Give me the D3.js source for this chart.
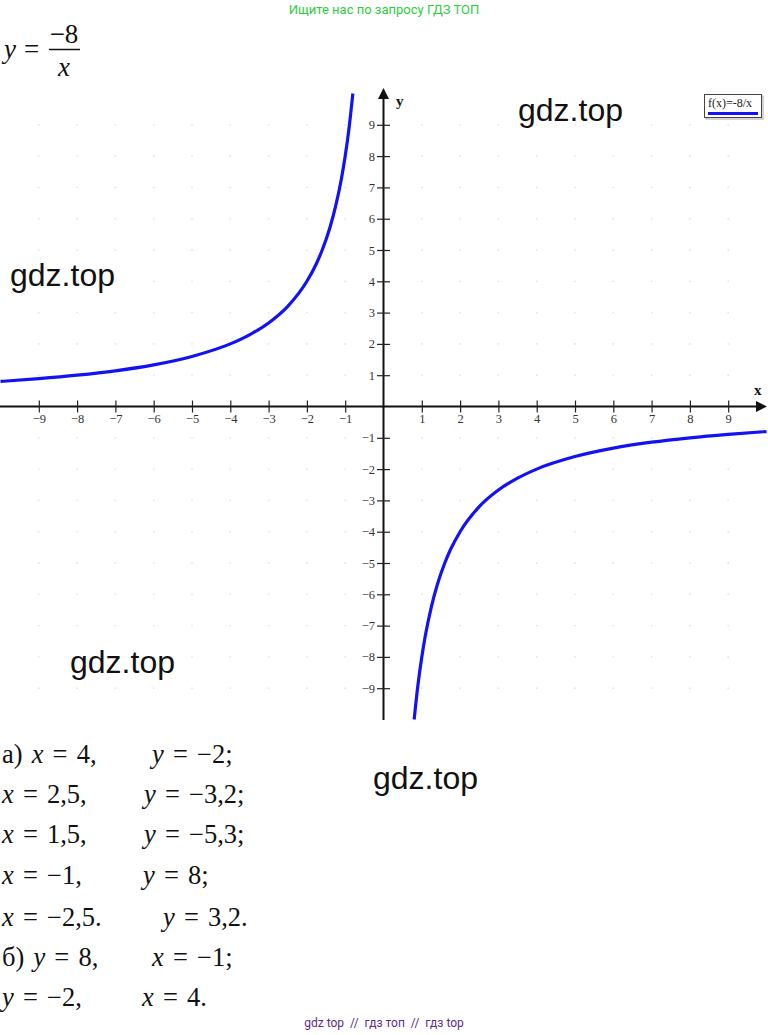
<!DOCTYPE html>
<html><head><meta charset="utf-8">
<script src="https://cdn.jsdelivr.net/npm/d3@7"></script>
<style>
html,body{margin:0;padding:0;background:#fff;}
svg{display:block;}
</style></head>
<body>
<script>
// ---- data ----
const xTicks = [-9,-8,-7,-6,-5,-4,-3,-2,-1,1,2,3,4,5,6,7,8,9];
const yTicks = [-9,-8,-7,-6,-5,-4,-3,-2,-1,1,2,3,4,5,6,7,8,9];
const leftBranchX = [-10,-9,-8,-7,-6,-5,-4,-3.5,-3,-2.5,-2,-1.75,-1.6,-1.4,-1.25,-1.1,-1,-0.9,-0.8];
const leftBranchY = [0.8,0.89,1,1.14,1.33,1.6,2,2.29,2.67,3.2,4,4.57,5,5.71,6.4,7.27,8,8.89,10];
const rightBranchX = [0.8,0.9,1,1.1,1.25,1.4,1.6,1.75,2,2.5,3,3.5,4,5,6,7,8,9,10];
const rightBranchY = [-10,-8.89,-8,-7.27,-6.4,-5.71,-5,-4.57,-4,-3.2,-2.67,-2.29,-2,-1.6,-1.33,-1.14,-1,-0.89,-0.8];
const legendLabel = "f(x)=-8/x";
const watermarks = ["gdz.top","gdz.top","gdz.top","gdz.top"];
const headerText = "Ищите нас по запросу ГДЗ ТОП";
const footerText = "gdz top  //  гдз топ  //  гдз top";
const answerLeft = ["а) x = 4,","x = 2,5,","x = 1,5,","x = −1,","x = −2,5.","б) y = 8,","y = −2,"];
const answerRight = ["y = −2;","y = −3,2;","y = −5,3;","y = 8;","y = 3,2.","x = −1;","x = 4."];

// ---- layout ----
const W = 768, H = 1035;
const svg = d3.select("body").append("svg").attr("width", W).attr("height", H);
const x = d3.scaleLinear().domain([-10,10]).range([0.5,766.5]);
const y = d3.scaleLinear().domain([-10,10]).range([719.5,93.5]);
const serif = "'Liberation Serif','Times New Roman',serif";
const sans = "'Liberation Sans',Arial,sans-serif";
const blue = "#1212f2";

// header
svg.append("text").attr("x",384).attr("y",14).attr("text-anchor","middle")
  .attr("font-family","Roboto,sans-serif").attr("font-size",13).attr("fill","#2ecc40")
  .text(headerText);

// formula y = -8/x
const f = svg.append("g").attr("font-family",serif).attr("font-size",27).attr("fill","#111");
f.append("text").attr("x",4).attr("y",58).attr("font-style","italic").text("y");
f.append("text").attr("x",24).attr("y",58).text("=");
f.append("text").attr("x",64).attr("y",43).attr("text-anchor","middle").text("−8");
f.append("line").attr("x1",49).attr("x2",80).attr("y1",49.5).attr("y2",49.5).attr("stroke","#111").attr("stroke-width",1.5);
f.append("text").attr("x",64).attr("y",76).attr("text-anchor","middle").attr("font-style","italic").text("x");

// faint lattice dots
const lattice = [];
for (const a of d3.range(-9,10)) for (const b of d3.range(-9,10)) if (a!==0 && b!==0) lattice.push([a,b]);
svg.append("g").selectAll("circle").data(lattice).join("circle")
  .attr("cx",d=>x(d[0])).attr("cy",d=>y(d[1])).attr("r",0.9).attr("fill","#e4e4e4");

// axes lines
const x0 = x(0), y0 = y(0);
svg.append("line").attr("x1",0).attr("x2",760).attr("y1",y0).attr("y2",y0).attr("stroke","#111").attr("stroke-width",2);
svg.append("line").attr("x1",x0).attr("x2",x0).attr("y1",95).attr("y2",720).attr("stroke","#111").attr("stroke-width",2);
svg.append("path").attr("d",`M767,${y0} L756,${y0-5.5} L756,${y0+5.5} Z`).attr("fill","#111");
svg.append("path").attr("d",`M${x0},88 L${x0-5.5},99 L${x0+5.5},99 Z`).attr("fill","#111");

// x axis ticks
const xa = svg.append("g").attr("transform",`translate(0,${y0-6})`)
  .call(d3.axisBottom(x).tickValues(xTicks).tickSize(12).tickPadding(2).tickFormat(d3.format("d")));
xa.select(".domain").remove();
xa.selectAll(".tick line").attr("stroke","#222").attr("stroke-width",1.2);
xa.selectAll(".tick text").attr("font-family",serif).attr("font-size",12.5).attr("fill","#333");

// y axis ticks
const ya = svg.append("g").attr("transform",`translate(${x0+6.5},0)`)
  .call(d3.axisLeft(y).tickValues(yTicks).tickSize(13).tickPadding(2).tickFormat(d3.format("d")));
ya.select(".domain").remove();
ya.selectAll(".tick line").attr("stroke","#222").attr("stroke-width",1.2);
ya.selectAll(".tick text").attr("font-family",serif).attr("font-size",12.5).attr("fill","#333");

// axis names
svg.append("text").attr("x",754).attr("y",395).attr("font-family",serif).attr("font-weight","bold").attr("font-size",15).attr("fill","#111").text("x");
svg.append("text").attr("x",396).attr("y",106).attr("font-family",serif).attr("font-weight","bold").attr("font-size",15).attr("fill","#111").text("y");

// curves
svg.append("defs").append("clipPath").attr("id","plotclip").append("rect")
  .attr("x",0).attr("y",92).attr("width",W).attr("height",628);
const line = d3.line().x(d=>x(d[0])).y(d=>y(d[1])).curve(d3.curveMonotoneX);
const cg = svg.append("g").attr("clip-path","url(#plotclip)");
cg.append("path").datum(d3.zip(leftBranchX,leftBranchY)).attr("d",line)
  .attr("fill","none").attr("stroke",blue).attr("stroke-width",3.2);
cg.append("path").datum(d3.zip(rightBranchX,rightBranchY)).attr("d",line)
  .attr("fill","none").attr("stroke",blue).attr("stroke-width",3.2);

// legend
const lg = svg.append("g");
lg.append("rect").attr("x",706).attr("y",96).attr("width",57).attr("height",23).attr("fill","none").attr("stroke","#aaa").attr("stroke-width",1);
lg.append("rect").attr("x",704.5).attr("y",94.5).attr("width",57).attr("height",23).attr("fill","#fff").attr("stroke","#444").attr("stroke-width",1);
lg.append("text").attr("x",708).attr("y",107).attr("font-family",serif).attr("font-size",12).attr("fill","#222").text(legendLabel);
lg.append("line").attr("x1",708).attr("x2",758).attr("y1",113.5).attr("y2",113.5).attr("stroke",blue).attr("stroke-width",3);

// watermarks
const wmPos = [[518,121],[10,286],[70,673],[373,789]];
svg.append("g").selectAll("text").data(watermarks).join("text")
  .attr("x",(d,i)=>wmPos[i][0]).attr("y",(d,i)=>wmPos[i][1])
  .attr("font-family",sans).attr("font-size",32).attr("fill","#111").text(d=>d);

// answers
const baselines = [763,803,843,884,926,966,1006];
const rightX = [152,144,144,143,163,152,142];
function mathText(sel, str) {
  for (const ch of Array.from(str)) {
    sel.append("tspan").attr("font-style", (ch==="x"||ch==="y") ? "italic" : "normal").text(ch);
  }
}
const ag = svg.append("g").attr("font-family",serif).attr("font-size",26.5).attr("fill","#111").attr("word-spacing",2.5).style("white-space","pre");
answerLeft.forEach((s,i)=>{
  const t = ag.append("text").attr("x",2).attr("y",baselines[i]); mathText(t,s);
});
answerRight.forEach((s,i)=>{
  const t = ag.append("text").attr("x",rightX[i]).attr("y",baselines[i]); mathText(t,s);
});

// footer
svg.append("text").attr("x",384).attr("y",1027).attr("text-anchor","middle")
  .attr("font-family","Roboto,sans-serif").attr("font-size",12).attr("fill","#5b2a8c")
  .style("white-space","pre").text(footerText);
</script>
</body></html>
